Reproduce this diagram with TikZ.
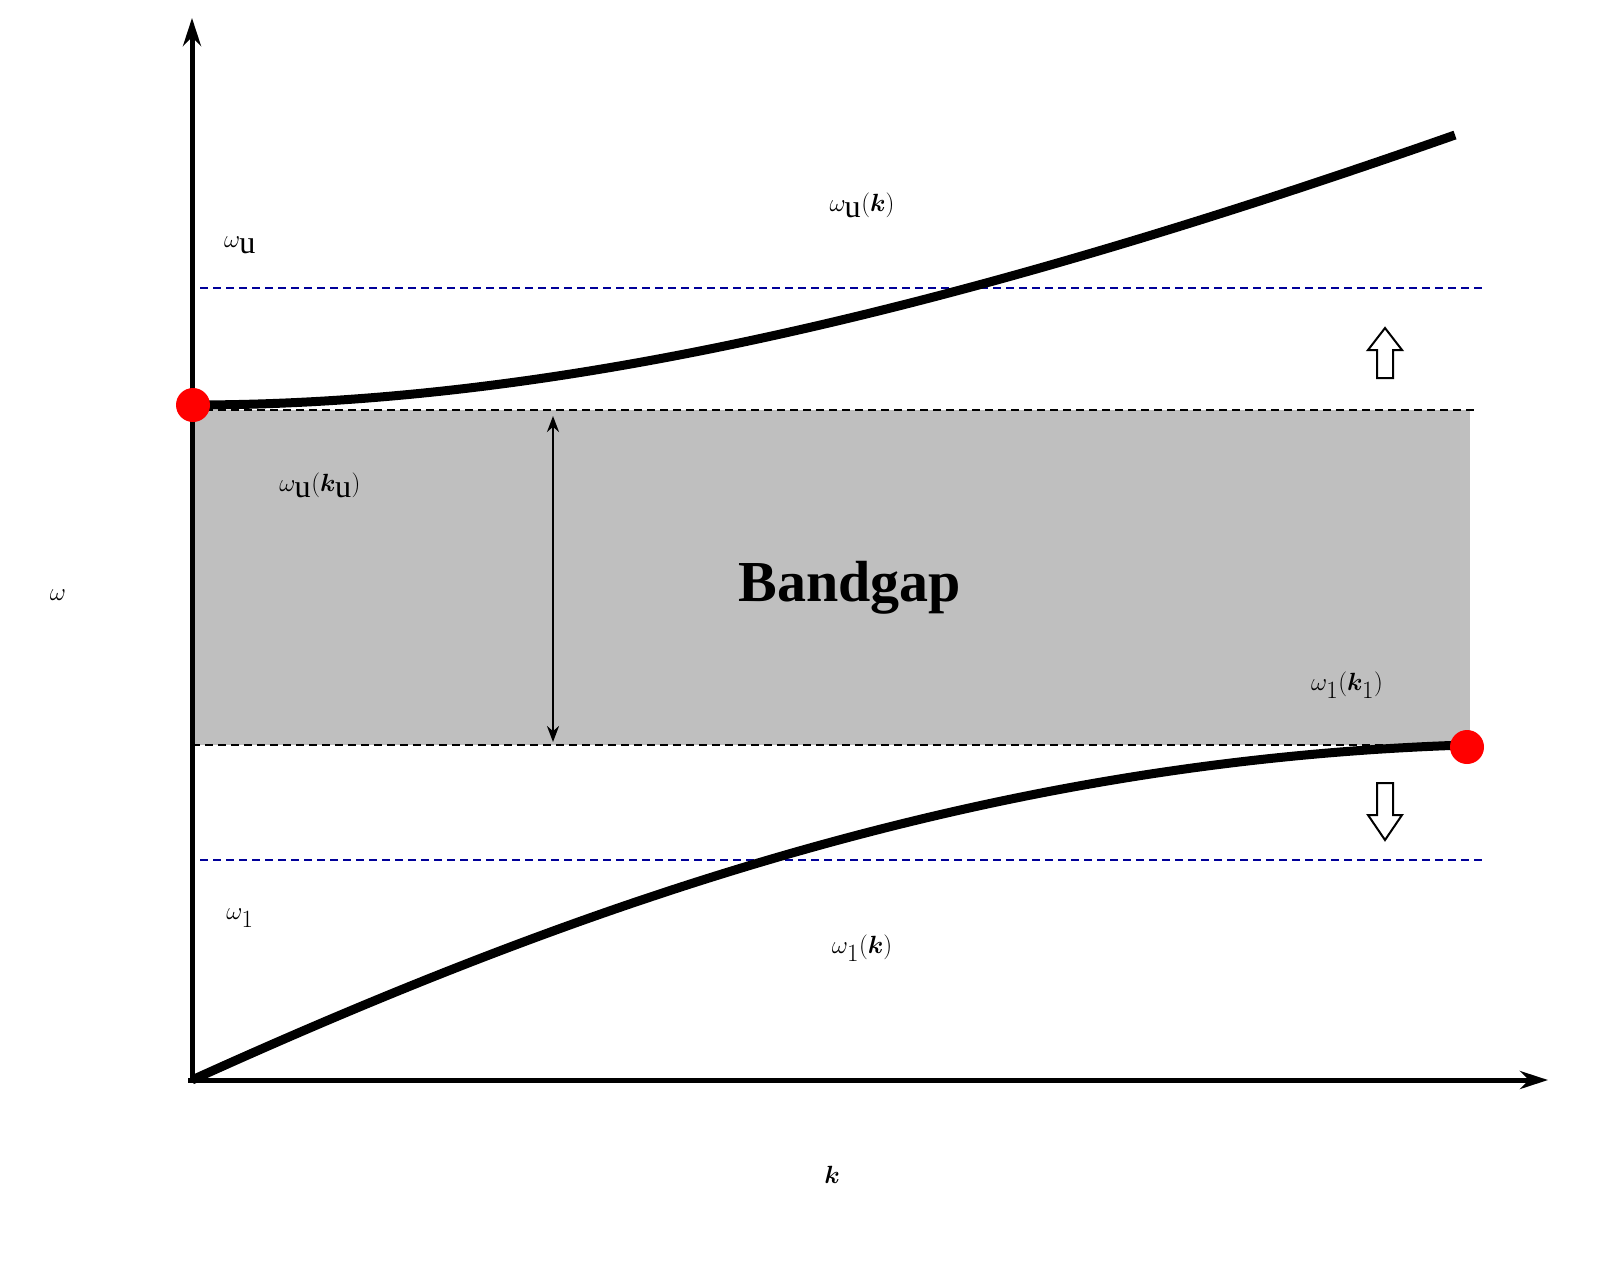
\documentclass[tikz,border=0pt]{standalone}
\usepackage{amsmath}
\usepackage{bm}
\usepackage{fontspec}
\setmainfont{Liberation Serif}
\usetikzlibrary{arrows.meta}
\begin{document}
\begin{tikzpicture}[x=1pt,y=-1pt,
 lab/.style={font=\fontsize{46}{54}\selectfont},
 mydash/.style={line width=2pt,dash pattern=on 8pt off 5pt},
 hollow/.style={draw=black,fill=white,line width=2pt}]
\useasboundingbox (0,0) rectangle (1608,1262);
\fill[gray!50] (192,410) rectangle (1470,745);
\draw[mydash] (192,410) -- (1475,410);
\draw[mydash] (192,745) -- (1475,745);
\draw[mydash,blue!60!black] (200,288) -- (1482,288);
\draw[mydash,blue!60!black] (200,860) -- (1482,860);
\coordinate (o) at (192,1080);
\coordinate (ytop) at (192,18);
\coordinate (xend) at (1548,1080);
\draw[line width=5pt,-{Stealth[length=28pt,width=18pt]}] (o) -- (ytop);
\draw[line width=5pt,-{Stealth[length=28pt,width=18pt]}] (188,1080) -- (xend);
\draw[line width=9pt] (192,405) .. controls (520,405) and (900,330) .. (1455,135);
\draw[line width=9pt] (192,1080) .. controls (600,895) and (1000,760) .. (1465,745);
\fill[red] (193,405) circle (17);
\fill[red] (1467,747) circle (17);
\coordinate (a) at (553,416); \coordinate (b) at (553,742);
\draw[line width=2.5pt,{Stealth[length=16pt,width=12pt]}-{Stealth[length=16pt,width=12pt]}] (a) -- (b);
\draw[hollow] (1377,378) -- (1393,378) -- (1393,350) -- (1402,350) -- (1385,328) -- (1368,350) -- (1377,350) -- cycle;
\draw[hollow] (1377,783) -- (1393,783) -- (1393,815) -- (1402,815) -- (1385,840) -- (1368,815) -- (1377,815) -- cycle;
\node[lab] (wu) at (240,245) {$\omega_{\mathrm{u}}$};
\node[lab] (wuk) at (862,205) {$\omega_{\mathrm{u}}(\bm{k})$};
\node[lab] (wuku) at (320,485) {$\omega_{\mathrm{u}}(\bm{k}_{\mathrm{u}})$};
\node[lab] (w) at (58,595) {$\omega$};
\node[font=\fontsize{58}{66}\selectfont\bfseries] (bg) at (850,588) {Bandgap};
\node[lab] (wlkl) at (1347,685) {$\omega_1(\bm{k}_1)$};
\node[lab] (wl) at (240,918) {$\omega_1$};
\node[lab] (wlk) at (862,948) {$\omega_1(\bm{k})$};
\node[lab] (k) at (832,1175) {$\bm{k}$};
\end{tikzpicture}
\end{document}
